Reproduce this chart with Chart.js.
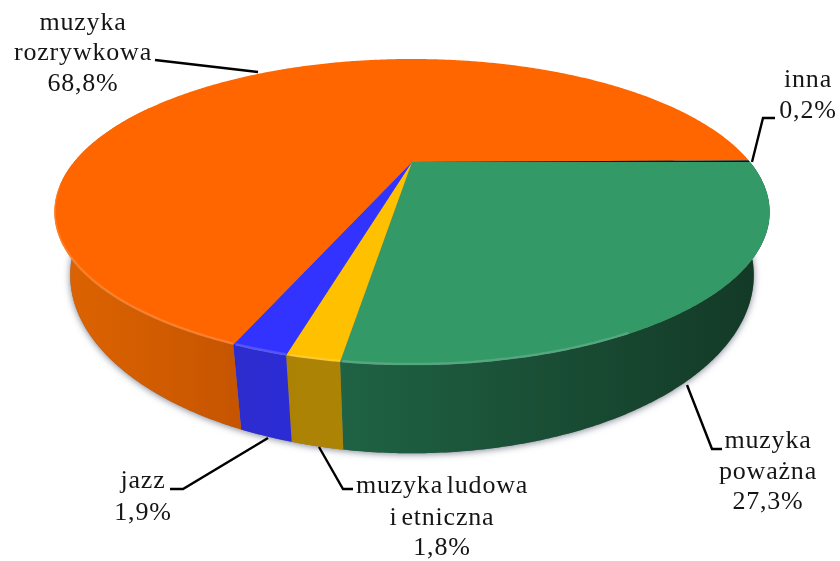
<!DOCTYPE html>
<html lang="pl">
<head>
<meta charset="utf-8">
<title>muzyka</title>
<style>
  html, body { margin: 0; padding: 0; background: #fff; }
  canvas { display: block; }
</style>
</head>
<body>
<canvas id="pieChart" width="840" height="561"></canvas>
<script src="https://cdn.jsdelivr.net/npm/chart.js@4/dist/chart.umd.min.js"></script>
<script>
const categories = ['muzyka poważna', 'muzyka ludowa i etniczna', 'jazz', 'muzyka rozrywkowa', 'inna'];
const shares = [27.3, 1.8, 1.9, 68.8, 0.2];
const topColors = ['#339966', '#FFC000', '#3333FF', '#FF6600', '#141414'];
// wall colour at the right and the left end of each slice
const wallColors = [
    ['rgb(19,56,37)', 'rgb(31,98,68)'],
    ['rgb(172,132,4)', 'rgb(172,130,4)'],
    ['rgb(44,44,214)', 'rgb(44,44,206)'],
    ['rgb(199,85,0)', 'rgb(222,100,0)'],
    ['rgb(20,20,20)', 'rgb(20,20,20)']
];

// how each label is broken and where it sits
const labelLines = [['muzyka', 'poważna'], ['muzyka ludowa', 'i etniczna'], ['jazz'], ['muzyka', 'rozrywkowa'], ['inna']];
const labelCenterX = [768, 442, 143, 83, 808];
const labelBaselines = [[448, 479, 509], [493, 525, 555], [488, 520], [30, 60, 91], [87, 118]];
const leaderLines = [
    [[687, 385], [712, 449], [722, 449]],
    [[319, 447], [343, 489], [353, 489]],
    [[268, 438], [183, 489], [170, 489]],
    [[258, 72], [155, 60]],
    [[752, 162], [763, 118], [775, 118]]
];

// perspective of the disc: apex on screen, half width, half height, foreshortening
const centerX = 412, tilt = -0.327;
const topRing = { y: 162, w: 338, h: 136.7 };
const baseRing = { y: 217, w: 323, h: 159 };

const ringPoint = (ring, angle) => {
    const x = Math.cos(angle), y = Math.sin(angle);
    const d = 1 + tilt * y;
    return [centerX + ring.w * x / d, ring.y + ring.h * y / d];
};
const STEP = Math.PI / 360;
const WALL_END = Math.PI * 1.15; // past the left edge the wall is behind the top face

const pie3d = {
    id: 'pie3d',
    beforeDatasetsDraw(chart) {
        const ctx = chart.ctx;
        const arcs = chart.getDatasetMeta(0).data;

        // soft shadow under the base
        ctx.save();
        ctx.shadowColor = 'rgba(70,80,100,0.7)';
        ctx.shadowBlur = 7;
        ctx.shadowOffsetY = 1;
        ctx.fillStyle = '#777';
        ctx.beginPath();
        for (let a = 0; a < Math.PI * 2; a += STEP) {
            const p = ringPoint(baseRing, a);
            ctx.lineTo(p[0], p[1]);
        }
        ctx.closePath();
        ctx.fill();
        ctx.restore();

        // side wall of each slice, thin quads in one path so no seams show
        arcs.forEach((arc, i) => {
            const { startAngle, endAngle } = arc.getProps(['startAngle', 'endAngle'], true);
            const end = Math.min(endAngle, WALL_END);
            if (end <= startAngle) return;
            let minX = Infinity, maxX = -Infinity;
            for (let a = startAngle; a <= end; a += STEP) {
                const x = ringPoint(topRing, a)[0];
                minX = Math.min(minX, x);
                maxX = Math.max(maxX, x);
            }
            const grad = ctx.createLinearGradient(maxX + 1, 0, minX - 1, 0);
            grad.addColorStop(0, wallColors[i][0]);
            grad.addColorStop(1, wallColors[i][1]);
            ctx.fillStyle = grad;
            ctx.beginPath();
            for (let a = startAngle; a < end; a += STEP) {
                const b = Math.min(a + STEP, end);
                const p1 = ringPoint(topRing, a), p2 = ringPoint(topRing, b);
                const p3 = ringPoint(baseRing, b), p4 = ringPoint(baseRing, a);
                ctx.moveTo(p1[0], p1[1]);
                ctx.lineTo(p2[0], p2[1]);
                ctx.lineTo(p3[0], p3[1]);
                ctx.lineTo(p4[0], p4[1]);
                ctx.closePath();
            }
            ctx.fill();
        });

        // top face
        arcs.forEach((arc, i) => {
            const { startAngle, endAngle } = arc.getProps(['startAngle', 'endAngle'], true);
            ctx.fillStyle = topColors[i];
            ctx.beginPath();
            ctx.moveTo(centerX, topRing.y);
            for (let a = startAngle; a < endAngle; a += STEP) {
                const p = ringPoint(topRing, a);
                ctx.lineTo(p[0], p[1]);
            }
            const end = ringPoint(topRing, endAngle);
            ctx.lineTo(end[0], end[1]);
            ctx.closePath();
            ctx.fill();
        });

        // bevel on the near rim
        arcs.forEach((arc) => {
            const { startAngle, endAngle } = arc.getProps(['startAngle', 'endAngle'], true);
            const from = Math.max(startAngle, Math.PI * 0.35);
            const to = Math.min(endAngle, Math.PI * 0.95);
            if (to <= from) return;
            ctx.strokeStyle = 'rgba(255,255,255,0.16)';
            ctx.lineWidth = 2.5;
            ctx.beginPath();
            for (let a = from; a < to; a += STEP) {
                const p = ringPoint(topRing, a);
                ctx.lineTo(p[0], p[1] - 1);
            }
            ctx.stroke();
        });
        return false;
    },
    afterDraw(chart) {
        const ctx = chart.ctx;
        ctx.save();
        ctx.strokeStyle = '#000';
        ctx.lineWidth = 2.4;
        leaderLines.forEach((line) => {
            ctx.beginPath();
            line.forEach((p) => ctx.lineTo(p[0], p[1]));
            ctx.stroke();
        });

        ctx.fillStyle = '#151515';
        ctx.font = '26px "Liberation Serif"';
        ctx.letterSpacing = '0.8px';
        ctx.wordSpacing = '-3.5px';
        ctx.textAlign = 'center';
        ctx.textBaseline = 'alphabetic';
        shares.forEach((value, i) => {
            const lines = [...labelLines[i], `${value.toFixed(1).replace('.', ',')}%`];
            lines.forEach((text, k) => ctx.fillText(text, labelCenterX[i], labelBaselines[i][k]));
        });
        ctx.restore();
    }
};

new Chart(document.getElementById('pieChart'), {
    type: 'pie',
    data: {
        labels: categories,
        datasets: [{ data: shares, backgroundColor: topColors, borderWidth: 0 }]
    },
    options: {
        responsive: false,
        animation: false,
        rotation: 90,
        plugins: { legend: { display: false }, tooltip: { enabled: false } }
    },
    plugins: [pie3d]
});
</script>
</body>
</html>
